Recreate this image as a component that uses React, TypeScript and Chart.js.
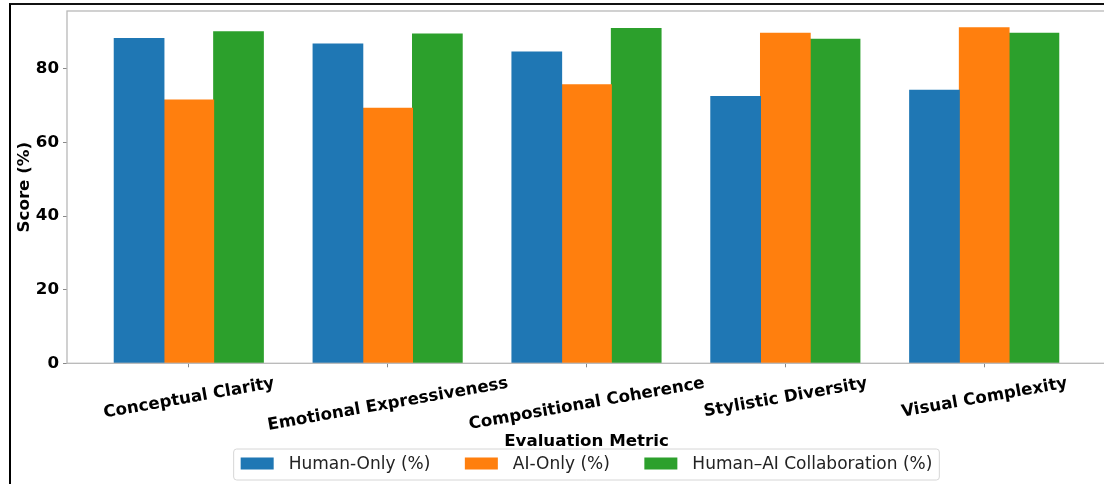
import { useEffect, useRef } from "react";
import { Chart, registerables } from "chart.js";

Chart.register(...registerables);

const categories = [
  "Conceptual Clarity",
  "Emotional Expressiveness",
  "Compositional Coherence",
  "Stylistic Diversity",
  "Visual Complexity",
];
const seriesNames = ["Human-Only (%)", "AI-Only (%)", "Human–AI Collaboration (%)"];
const humanOnly = [88.3, 86.8, 84.6, 72.5, 74.2];
const aiOnly = [71.6, 69.3, 75.7, 89.7, 91.2];
const collaboration = [90.1, 89.5, 91.0, 88.1, 89.7];
const yTickStep = 20;
const seriesColors = ["#1f77b4", "#ff7f0e", "#2ca02c"];

const W = 1120;
const H = 484;
const FS = 16.67;
const FAMILY = "'DejaVu Sans', sans-serif";
const SPINE = "#b8b8b8";

const series = [humanOnly, aiOnly, collaboration];
const allValues = series.flat();
const yMax = Math.max(...allValues) * 1.05;
const n = categories.length;
const barW = 0.25;
const xPad = barW * 1.5 + 0.05 * (n - 1 + barW * 3);

const chartFrame = {
  id: "chartFrame",
  afterDatasetsDraw(chart: any) {
    const { ctx, chartArea: a } = chart;
    ctx.save();
    ctx.strokeStyle = SPINE;
    ctx.lineWidth = 1.3;
    ctx.strokeRect(a.left, a.top, a.right - a.left, a.bottom - a.top);
    ctx.restore();
  },
  afterDraw(chart: any) {
    const { ctx, chartArea: a } = chart;
    const xs = chart.scales.x;
    // rotated category labels (centered like matplotlib)
    ctx.save();
    ctx.font = `bold ${FS}px ${FAMILY}`;
    ctx.fillStyle = "#000";
    ctx.textAlign = "center";
    ctx.textBaseline = "alphabetic";
    const th = (10 * Math.PI) / 180;
    const h = FS * 1.164;
    categories.forEach((label, i) => {
      const x = xs.getPixelForValue(i);
      const w = ctx.measureText(label).width;
      const top = a.bottom + 9;
      const cy = top + (w * Math.sin(th) + h * Math.cos(th)) / 2;
      ctx.save();
      ctx.translate(x, cy);
      ctx.rotate(-th);
      ctx.fillText(label, 0, 0.346 * FS);
      ctx.restore();
    });
    ctx.restore();

    // legend
    ctx.save();
    const lf = 17;
    ctx.font = `${lf}px ${FAMILY}`;
    const patchW = 33;
    const patchH = 12;
    const textPad = 15;
    const colSpace = 34.5;
    const borderPad = 7;
    const widths = seriesNames.map((s) => ctx.measureText(s).width);
    const total =
      borderPad * 2 +
      widths.reduce((p, c) => p + c, 0) +
      seriesNames.length * (patchW + textPad) +
      colSpace * (seriesNames.length - 1);
    const cx = (a.left + a.right) / 2;
    const bx = cx - total / 2;
    const by = 449;
    const bh = 31;
    ctx.beginPath();
    const r = 3;
    ctx.moveTo(bx + r, by);
    ctx.lineTo(bx + total - r, by);
    ctx.arcTo(bx + total, by, bx + total, by + r, r);
    ctx.lineTo(bx + total, by + bh - r);
    ctx.arcTo(bx + total, by + bh, bx + total - r, by + bh, r);
    ctx.lineTo(bx + r, by + bh);
    ctx.arcTo(bx, by + bh, bx, by + bh - r, r);
    ctx.lineTo(bx, by + r);
    ctx.arcTo(bx, by, bx + r, by, r);
    ctx.closePath();
    ctx.fillStyle = "rgba(255,255,255,0.8)";
    ctx.fill();
    ctx.strokeStyle = "#d6d6d6";
    ctx.lineWidth = 1;
    ctx.stroke();
    let x = bx + borderPad;
    const cyL = by + bh / 2 - 1;
    ctx.textAlign = "left";
    ctx.textBaseline = "middle";
    seriesNames.forEach((name, k) => {
      ctx.fillStyle = seriesColors[k];
      ctx.fillRect(x, cyL - patchH / 2, patchW, patchH);
      x += patchW + textPad;
      ctx.fillStyle = "#222";
      ctx.fillText(name, x, cyL + 1);
      x += widths[k] + colSpace;
    });
    ctx.restore();
  },
};

export default function App() {
  const ref = useRef<HTMLCanvasElement | null>(null);

  useEffect(() => {
    if (!ref.current) return;
    const chart = new Chart(ref.current, {
      type: "bar",
      data: {
        datasets: series.map((vals, k) => ({
          label: seriesNames[k],
          data: vals.map((v, i) => ({ x: i, y: v })),
          backgroundColor: seriesColors[k],
          borderWidth: 0,
          inflateAmount: 0.5,
          categoryPercentage: barW * 3,
          barPercentage: 1,
        })),
      },
      options: {
        responsive: false,
        animation: false,
        events: [],
        layout: { padding: { top: 11, right: W - 1106, left: 0, bottom: 0 } },
        plugins: {
          legend: { display: false },
          tooltip: { enabled: false },
        },
        scales: {
          x: {
            type: "linear",
            min: -xPad,
            max: n - 1 + xPad,
            offset: false,
            grid: {
              offset: false,
              drawOnChartArea: false,
              drawTicks: true,
              tickLength: 4,
              color: "#888",
              lineWidth: 1,
            },
            border: { display: false },
            ticks: { display: false, stepSize: 1, includeBounds: false },
            title: {
              display: true,
              text: "Evaluation Metric",
              color: "#000",
              font: { family: FAMILY, size: FS, weight: "bold", lineHeight: 1.2 },
              padding: { top: 0, bottom: 32.5 },
            },
            afterFit: (s: any) => {
              s.height = H - 363.3;
              s.paddingLeft = 0;
              s.paddingRight = 0;
            },
          },
          y: {
            min: 0,
            max: yMax,
            grid: {
              drawOnChartArea: false,
              drawTicks: true,
              tickLength: 4,
              color: "#888",
              lineWidth: 1,
            },
            border: { display: false },
            ticks: {
              stepSize: yTickStep,
              includeBounds: false,
              color: "#000",
              padding: 4,
              font: { family: FAMILY, size: FS, weight: "bold" },
            },
            title: {
              display: true,
              text: "Score (%)",
              color: "#000",
              font: { family: FAMILY, size: FS, weight: "bold", lineHeight: 1.2 },
              padding: { top: 14.5, bottom: 0 },
            },
            afterFit: (s: any) => {
              s.width = 67;
              s.paddingTop = 0;
              s.paddingBottom = 0;
            },
          },
        },
      } as any,
      plugins: [chartFrame],
    });
    return () => chart.destroy();
  }, []);

  return (
    <div
      style={{
        position: "absolute",
        left: 0,
        top: 0,
        width: 1104,
        height: 484,
        overflow: "hidden",
        background: "#fff",
      }}
    >
      <canvas ref={ref} width={W} height={H} style={{ display: "block" }} />
      <div
        style={{
          position: "absolute",
          left: 9,
          top: 3,
          right: 0,
          bottom: 0,
          borderLeft: "2px solid #000",
          borderTop: "2px solid #111",
          pointerEvents: "none",
        }}
      />
    </div>
  );
}
